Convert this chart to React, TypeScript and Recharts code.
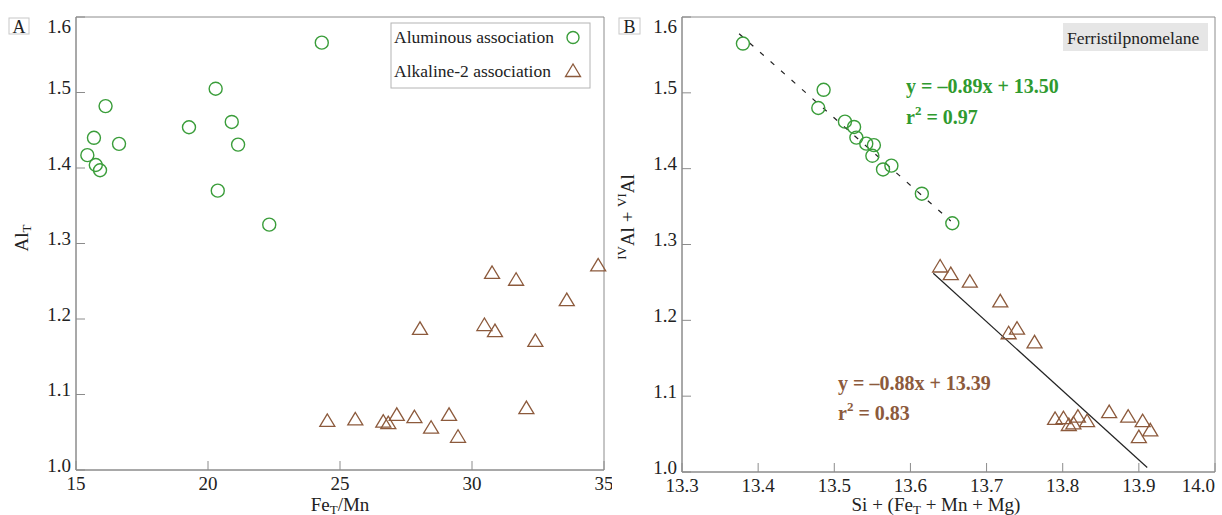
import React from 'react';
import { ScatterChart, Scatter, XAxis, YAxis, ReferenceArea, ReferenceLine } from 'recharts';

// panel A: Al_T vs Fe_T/Mn
const aluminousFeMn = [24.31, 20.29, 16.12, 19.28, 20.9, 15.68, 16.63, 21.14, 15.43, 15.75, 15.91, 20.37, 22.32];
const aluminousAlT = [1.566, 1.505, 1.482, 1.454, 1.461, 1.44, 1.432, 1.431, 1.417, 1.404, 1.397, 1.37, 1.325];
const alkalineFeMn = [24.52, 25.58, 26.64, 26.83, 27.15, 27.82, 28.45, 29.13, 29.47, 28.03, 30.47, 30.87, 30.76, 31.67, 32.4, 32.06, 33.59, 34.78];
const alkalineAlT = [1.065, 1.067, 1.064, 1.062, 1.073, 1.07, 1.056, 1.073, 1.044, 1.187, 1.192, 1.184, 1.261, 1.252, 1.171, 1.082, 1.225, 1.271];

// panel B: IVAl + VIAl vs Si + (Fe_T + Mn + Mg)
const aluminousSum = [13.38, 13.486, 13.479, 13.514, 13.526, 13.529, 13.542, 13.552, 13.55, 13.564, 13.575, 13.615, 13.655];
const aluminousAl = [1.565, 1.504, 1.48, 1.462, 1.455, 1.441, 1.433, 1.431, 1.417, 1.399, 1.404, 1.367, 1.328];
const alkalineSum = [13.639, 13.653, 13.678, 13.718, 13.74, 13.729, 13.763, 13.79, 13.801, 13.808, 13.814, 13.82, 13.832, 13.861, 13.886, 13.905, 13.9, 13.915];
const alkalineAl = [1.271, 1.261, 1.251, 1.225, 1.189, 1.183, 1.171, 1.07, 1.071, 1.062, 1.064, 1.073, 1.067, 1.079, 1.073, 1.067, 1.046, 1.055];

const aluminousFit = [{ x: 13.375, y: 1.578 }, { x: 13.653, y: 1.331 }];
const alkalineFit = [{ x: 13.63, y: 1.262 }, { x: 13.911, y: 1.006 }];

const feMnTicks = [15, 20, 25, 30, 35];
const sumTicks = [13.3, 13.4, 13.5, 13.6, 13.7, 13.8, 13.9, 14.0];
const alTicks = [1.0, 1.1, 1.2, 1.3, 1.4, 1.5, 1.6];

const GREEN = '#3a9d3a';
const BROWN = '#8c5a3c';
const AXIS = '#8c8c8c';
const FONT = '"Liberation Serif", "Times New Roman", serif';

const toPoints = (xs: number[], ys: number[]) => xs.map((x, i) => ({ x, y: ys[i] }));

const CircleShape = (props: any) => (
  <circle cx={props.cx} cy={props.cy} r={6.5} fill="none" stroke={GREEN} strokeWidth={1.4} />
);

const TriangleShape = (props: any) => {
  const { cx, cy } = props;
  return (
    <polygon
      points={`${cx},${cy - 7} ${cx - 7.5},${cy + 5.5} ${cx + 7.5},${cy + 5.5}`}
      fill="none"
      stroke={BROWN}
      strokeWidth={1.3}
    />
  );
};

const YTick = (props: any) => {
  const { x, y, payload } = props;
  const v = Number(payload.value);
  const dy = v >= 1.6 ? 9 : -5;
  return (
    <text x={x} y={y + dy} textAnchor="end" dominantBaseline="central" style={{ fontFamily: FONT }} fontSize={19} fill="#222">
      {v.toFixed(1)}
    </text>
  );
};

// last tick label sits inside the right edge, like the original
const XTick = (decimals: number, last: number) => (props: any) => {
  const { x, y, payload } = props;
  const v = Number(payload.value);
  const atEnd = Math.abs(v - last) < 1e-9;
  return (
    <text
      x={atEnd ? x + 1 : x}
      y={y + 8}
      textAnchor={atEnd ? 'end' : 'middle'}
      dominantBaseline="central"
      style={{ fontFamily: FONT }}
      fontSize={19}
      fill="#222"
    >
      {v.toFixed(decimals)}
    </text>
  );
};

function Overlay() {
  const t = { fontFamily: FONT, fill: '#222' };
  return (
    <svg width={1222} height={515} style={{ position: 'absolute', left: 0, top: 0, pointerEvents: 'none' }}>
      {/* panel letters */}
      <rect x={9} y={18} width={20} height={16} fill="none" stroke="#c8c8c8" />
      <text x={19} y={26.5} textAnchor="middle" dominantBaseline="central" fontSize={18} {...t}>A</text>
      <rect x={619} y={18} width={21} height={16} fill="none" stroke="#c8c8c8" />
      <text x={629.5} y={26.5} textAnchor="middle" dominantBaseline="central" fontSize={18} {...t}>B</text>

      {/* legend */}
      <rect x={391} y={23} width={199} height={65} fill="#fff" stroke="#b4b4b4" />
      <text x={394} y={37} dominantBaseline="central" fontSize={17.5} {...t}>Aluminous association</text>
      <text x={394} y={71} dominantBaseline="central" fontSize={17.5} {...t}>Alkaline-2 association</text>
      <circle cx={573} cy={37.5} r={6} fill="none" stroke={GREEN} strokeWidth={1.4} />
      <polygon points="573,64 565.5,76.5 580.5,76.5" fill="none" stroke={BROWN} strokeWidth={1.3} />

      {/* axis titles */}
      <text transform="rotate(-90 21 238)" x={21} y={238} textAnchor="middle" dominantBaseline="central" fontSize={19} {...t}>
        Al<tspan dy={5} fontSize={13}>T</tspan>
      </text>
      <text x={340} y={504} textAnchor="middle" dominantBaseline="central" fontSize={19} {...t}>
        Fe<tspan dy={5} fontSize={13}>T</tspan><tspan dy={-5}>/Mn</tspan>
      </text>
      <text x={936} y={504} textAnchor="middle" dominantBaseline="central" fontSize={19} {...t}>
        Si + (Fe<tspan dy={5} fontSize={13}>T</tspan><tspan dy={-5}> + Mn + Mg)</tspan>
      </text>
      <text transform="rotate(-90 627 217)" x={627} y={217} textAnchor="middle" dominantBaseline="central" fontSize={19} {...t}>
        <tspan dy={-6} fontSize={13}>IV</tspan><tspan dy={6}>Al + </tspan>
        <tspan dy={-6} fontSize={13}>VI</tspan><tspan dy={6}>Al</tspan>
      </text>

      {/* mineral tag */}
      <rect x={1063} y={23} width={145} height={28} fill="#e6e6e6" />
      <text x={1067} y={37.5} dominantBaseline="central" fontSize={17.5} {...t}>Ferristilpnomelane</text>

      {/* regression equations */}
      <g fontFamily={FONT} fontWeight="bold" fontSize={20}>
        <text x={906} y={86} dominantBaseline="central" fill="#2f9a2f">y = –0.89x + 13.50</text>
        <text x={906} y={117} dominantBaseline="central" fill="#2f9a2f">
          r<tspan dy={-7} fontSize={13}>2</tspan><tspan dy={7}> = 0.97</tspan>
        </text>
        <text x={838} y={383} dominantBaseline="central" fill={BROWN}>y = –0.88x + 13.39</text>
        <text x={838} y={413} dominantBaseline="central" fill={BROWN}>
          r<tspan dy={-7} fontSize={13}>2</tspan><tspan dy={7}> = 0.83</tspan>
        </text>
      </g>
    </svg>
  );
}

export default function App() {
  return (
    <div style={{ position: 'relative', width: 1222, height: 515, background: '#fff', fontFamily: FONT }}>
      <style>{'body{margin:0;}'}</style>
      <div style={{ position: 'absolute', left: 0, top: 0 }}>
        <ScatterChart width={612} height={515} margin={{ top: 17, right: 8, bottom: 15, left: 16 }}>
          <XAxis
            type="number"
            dataKey="x"
            domain={[15, 35]}
            ticks={feMnTicks}
            height={30}
            tickSize={-9}
            tickMargin={14}
            stroke={AXIS}
            tick={XTick(0, 1000)}
          />
          <YAxis
            type="number"
            dataKey="y"
            domain={[1.0, 1.6]}
            ticks={alTicks}
            width={60}
            tickSize={-9}
            tickMargin={14}
            stroke={AXIS}
            tick={<YTick />}
          />
          <ReferenceArea x1={15} x2={35} y1={1.0} y2={1.6} fill="none" stroke={AXIS} />
          <Scatter data={toPoints(aluminousFeMn, aluminousAlT)} shape={<CircleShape />} isAnimationActive={false} />
          <Scatter data={toPoints(alkalineFeMn, alkalineAlT)} shape={<TriangleShape />} isAnimationActive={false} />
        </ScatterChart>
      </div>
      <div style={{ position: 'absolute', left: 612, top: 0 }}>
        <ScatterChart width={610} height={515} margin={{ top: 17, right: 7, bottom: 13, left: 10 }}>
          <XAxis
            type="number"
            dataKey="x"
            domain={[13.3, 14.0]}
            ticks={sumTicks}
            height={30}
            tickSize={-9}
            tickMargin={14}
            stroke={AXIS}
            tick={XTick(1, 14.0)}
          />
          <YAxis
            type="number"
            dataKey="y"
            domain={[1.0, 1.6]}
            ticks={alTicks}
            width={60}
            tickSize={-9}
            tickMargin={14}
            stroke={AXIS}
            tick={<YTick />}
          />
          <ReferenceArea x1={13.3} x2={14.0} y1={1.0} y2={1.6} fill="none" stroke={AXIS} />
          <ReferenceLine segment={aluminousFit} stroke="#222" strokeWidth={1.2} strokeDasharray="5 9" />
          <ReferenceLine segment={alkalineFit} stroke="#222" strokeWidth={1.2} />
          <Scatter data={toPoints(aluminousSum, aluminousAl)} shape={<CircleShape />} isAnimationActive={false} />
          <Scatter data={toPoints(alkalineSum, alkalineAl)} shape={<TriangleShape />} isAnimationActive={false} />
        </ScatterChart>
      </div>
      <Overlay />
    </div>
  );
}
